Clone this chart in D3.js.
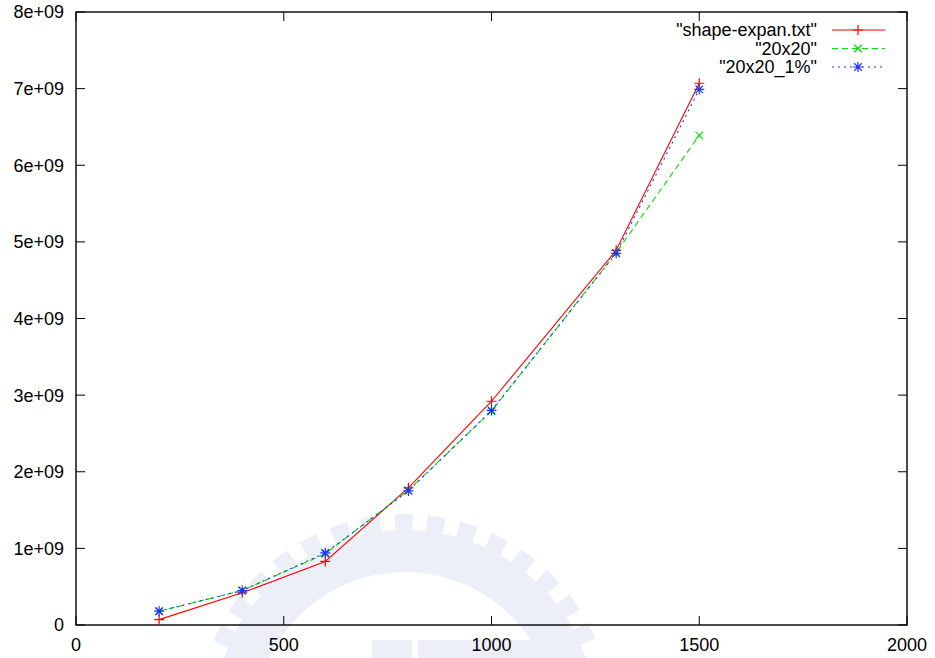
<!DOCTYPE html>
<html><head><meta charset="utf-8">
<script src="https://cdn.jsdelivr.net/npm/d3@7"></script>
<style>body{margin:0;background:#fff}svg{display:block}text{font-family:"Liberation Sans",Arial,sans-serif;fill:#000}</style>
</head><body><svg id="c" width="935" height="658"></svg>
<script>
const xValues = [200, 400, 600, 800, 1000, 1300, 1500];
const seriesNames = ['"shape-expan.txt"', '"20x20"', '"20x20_1%"'];
const shapeExpan = [0.07e9, 0.42e9, 0.83e9, 1.79e9, 2.92e9, 4.89e9, 7.07e9];
const s20x20 = [0.18e9, 0.45e9, 0.93e9, 1.76e9, 2.79e9, 4.86e9, 6.39e9];
const s20x20_1 = [0.18e9, 0.45e9, 0.94e9, 1.75e9, 2.80e9, 4.85e9, 6.99e9];
const xTicks = [0, 500, 1000, 1500, 2000];
const yTicks = [0, 1e9, 2e9, 3e9, 4e9, 5e9, 6e9, 7e9, 8e9];
const yTickLabels = ["0", "1e+09", "2e+09", "3e+09", "4e+09", "5e+09", "6e+09", "7e+09", "8e+09"];

const svg = d3.select("#c");
const L = 76, R = 907, T = 12, B = 625;
const x = d3.scaleLinear().domain([0, 2000]).range([L, R]);
const y = d3.scaleLinear().domain([0, 8e9]).range([B, T]);

// faint watermark (background decoration)
const wm = svg.append("g").attr("fill", "#e4e8f6").attr("opacity", 0.7);
wm.append("path").attr("transform", "translate(405,722)")
  .attr("d", d3.arc().innerRadius(150).outerRadius(192).startAngle(-1.25).endAngle(1.25)());
const nT = 15;
for (let i = 0; i < nT; i++) {
  const a0 = -1.2 + i * 2.4 / nT + 0.03, a1 = a0 + 2.4 / nT * 0.55;
  wm.append("path").attr("transform", "translate(405,722)")
    .attr("d", d3.arc().innerRadius(188).outerRadius(208).startAngle(a0).endAngle(a1)());
}
wm.append("rect").attr("x", 372).attr("y", 640).attr("width", 40).attr("height", 18);
wm.append("rect").attr("x", 418).attr("y", 640).attr("width", 125).attr("height", 18);

// frame
svg.append("rect").attr("x", L).attr("y", T).attr("width", R - L).attr("height", B - T)
  .attr("fill", "none").attr("stroke", "#000").attr("stroke-width", 1.4);

const tl = 9;
const ax = svg.append("g").attr("stroke", "#000").attr("stroke-width", 1);
yTicks.forEach(v => {
  ax.append("line").attr("x1", L).attr("x2", L + tl).attr("y1", y(v)).attr("y2", y(v));
  ax.append("line").attr("x1", R).attr("x2", R - tl).attr("y1", y(v)).attr("y2", y(v));
});
xTicks.forEach(v => {
  ax.append("line").attr("x1", x(v)).attr("x2", x(v)).attr("y1", B).attr("y2", B - tl);
  ax.append("line").attr("x1", x(v)).attr("x2", x(v)).attr("y1", T).attr("y2", T + tl);
});
svg.append("g").selectAll("text").data(yTicks).join("text")
  .attr("x", 64).attr("y", d => y(d)).attr("dy", "0.36em").attr("text-anchor", "end")
  .attr("font-size", 18).text((d, i) => yTickLabels[i]);
svg.append("g").selectAll("text").data(xTicks).join("text")
  .attr("x", d => x(d)).attr("y", 651).attr("text-anchor", "middle")
  .attr("font-size", 18).text(d => d);

const series = [
  {name: seriesNames[0], vals: shapeExpan, color: "#ff0000", dash: null, mk: "plus"},
  {name: seriesNames[1], vals: s20x20, color: "#00e000", dash: "6,4", mk: "x"},
  {name: seriesNames[2], vals: s20x20_1, color: "#2030ff", dash: "2,4", mk: "star"}
];
const line = d3.line().x(d => x(d[0])).y(d => y(d[1]));
function marker(g, cx, cy, type, color) {
  const s = 5;
  const p = [];
  if (type === "plus" || type === "star") p.push(`M${cx - s},${cy}H${cx + s}M${cx},${cy - s}V${cy + s}`);
  if (type === "x" || type === "star") p.push(`M${cx - s * 0.75},${cy - s * 0.75}L${cx + s * 0.75},${cy + s * 0.75}M${cx - s * 0.75},${cy + s * 0.75}L${cx + s * 0.75},${cy - s * 0.75}`);
  g.append("path").attr("d", p.join("")).attr("stroke", color).attr("stroke-width", 1.2).attr("fill", "none");
}
series.forEach(s => {
  const pts = xValues.map((xv, i) => [xv, s.vals[i]]);
  svg.append("path").datum(pts).attr("d", line).attr("fill", "none")
    .attr("stroke", s.color).attr("stroke-width", 1.1).attr("stroke-dasharray", s.dash);
  const g = svg.append("g");
  pts.forEach(p => marker(g, x(p[0]), y(p[1]), s.mk, s.color));
});

// legend
series.forEach((s, i) => {
  const ly = 30 + i * 18.5;
  svg.append("text").attr("x", 817).attr("y", ly).attr("dy", "0.36em").attr("text-anchor", "end")
    .attr("font-size", 18).text(s.name);
  svg.append("line").attr("x1", 832).attr("x2", 885).attr("y1", ly).attr("y2", ly)
    .attr("stroke", s.color).attr("stroke-width", 1.1).attr("stroke-dasharray", s.dash);
  marker(svg, 858, ly, s.mk, s.color);
});
</script></body></html>
